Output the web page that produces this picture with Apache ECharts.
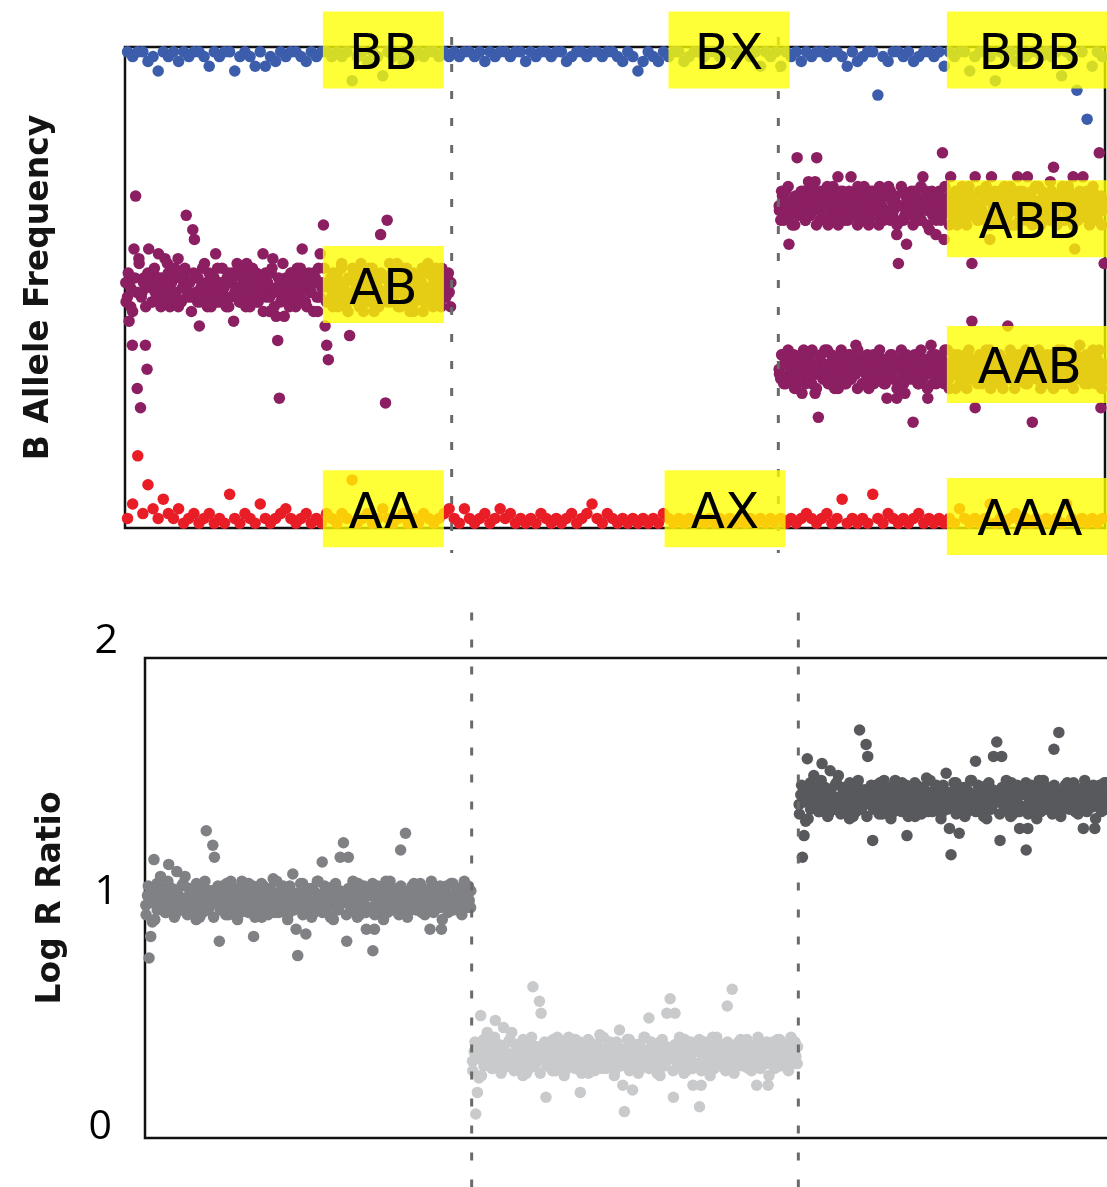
<!DOCTYPE html>
<html>
<head>
<meta charset="utf-8">
<title>B Allele Frequency / Log R Ratio</title>
<script src="https://cdn.jsdelivr.net/npm/echarts@6/dist/echarts.min.js"></script>
<style>
  html, body { margin: 0; padding: 0; background: #ffffff; }
  #chart { width: 1107px; height: 1187px; }
</style>
</head>
<body>
<div id="chart"></div>
<script>
// ---------------------------------------------------------------------------
// Data: three copy-number segments along one chromosome region.
// Each array lists marker values in genomic order within its segment.
// Dense clusters come from two interleaved marker sets (suffix "b" = set 2).
// ---------------------------------------------------------------------------

const segmentCount = 3;
const markersPerSegment = 1000;          // position units per segment
const segmentBreaks = [1000, 2000];      // breakpoints between segments
const lrrTicks = [0, 1, 2];

// B allele frequency, homozygous B calls (top strip)
const bafBB1 = [
  0.99,0.98,0.99,0.99,0.97,0.98,0.95,0.99,0.98,0.99,0.97,0.99,0.98,0.99,0.99,0.98,0.96,0.99,0.98,0.99,
  0.99,0.95,0.98,0.99,0.98,0.96,0.99,0.96,0.98,0.97,0.99,0.98,0.99,0.99,0.98,0.97,0.99,0.98,0.99,0.99,
  0.98,0.99,0.98,0.99,0.93,0.98,0.99,0.97,0.99,0.98,0.94,0.99,0.98,0.99,0.97,0.99,0.98,0.99,0.98,0.99,
  0.99,0.98,0.99,0.98
];
const bafBB2 = [
  0.99,0.98,0.99,0.99,0.98,0.99,0.97,0.99,0.98,0.99,0.99,0.98,0.99,0.99,0.97,0.99,0.98,0.99,0.99,0.98,
  0.99,0.99,0.97,0.98,0.99,0.99,0.98,0.99,0.99,0.98,0.99,0.99,0.98,0.97,0.99,0.98,0.95,0.97,0.99,0.98,
  0.97,0.99,0.98,0.99,0.99,0.97,0.98,0.99,0.99,0.98,0.99,0.99,0.98,0.99,0.99,0.98,0.99,0.99,0.98,0.99,
  0.96,0.99,0.98,0.99
];
const bafBB3 = [
  0.96,0.99,0.98,0.99,0.97,0.99,0.98,0.99,0.99,0.98,0.99,0.99,0.98,0.96,0.99,0.97,0.98,0.99,0.99,0.90,
  0.98,0.97,0.99,0.99,0.98,0.99,0.97,0.98,0.99,0.99,0.98,0.99,0.96,0.99,0.98,0.99,0.99,0.95,0.98,0.99,
  0.99,0.98,0.93,0.99,0.98,0.99,0.97,0.99,0.98,0.99,0.99,0.98,0.99,0.98,0.99,0.94,0.99,0.98,0.91,0.99,
  0.85,0.96,0.99,0.98
];

// B allele frequency, heterozygous calls
const bafAB1 = [
  0.51,0.48,0.43,0.46,0.38,0.58,0.69,0.29,0.56,0.25,0.49,0.52,0.38,0.33,0.58,0.50,0.47,0.53,0.49,0.51,
  0.57,0.48,0.52,0.47,0.56,0.50,0.53,0.46,0.51,0.49,0.54,0.48,0.56,0.52,0.47,0.50,0.53,0.65,0.49,0.51,
  0.48,0.62,0.60,0.52,0.47,0.42,0.50,0.54,0.49,0.51,0.46,0.53,0.48,0.50,0.52,0.57,0.47,0.51,0.49,0.54,
  0.50,0.48,0.52,0.46,0.51,0.53,0.43,0.49,0.50,0.54,0.47,0.52,0.48,0.51,0.55,0.49,0.46,0.52,0.50,0.48,
  0.53,0.47,0.51,0.49,0.57,0.52,0.48,0.50,0.45,0.53,0.56,0.49,0.44,0.39,0.27,0.51,0.48,0.44,0.52,0.50,
  0.47,0.53,0.49,0.51,0.46,0.54,0.50,0.48,0.58,0.52,0.47,0.50,0.53,0.49,0.51,0.45,0.52,0.48,0.54,0.57,
  0.50,0.63,0.42,0.38,0.35,0.51,0.48,0.53,0.49,0.52,0.46,0.50,0.54,0.48,0.51,0.47,0.45,0.40,0.52,0.49,
  0.53,0.48,0.51,0.46,0.55,0.50,0.47,0.52,0.49,0.54,0.48,0.51,0.45,0.53,0.50,0.47,0.61,0.52,0.49,0.26,
  0.64,0.50,0.47,0.53,0.48,0.51,0.55,0.49,0.46,0.52,0.50,0.48,0.54,0.51,0.45,0.49,0.53,0.47,0.50,0.52,
  0.48,0.51,0.45,0.53,0.49,0.55,0.47,0.50,0.52,0.48,0.54,0.49,0.51,0.46,0.53,0.50,0.48,0.52,0.49,0.51
];
const bafAB1b = [
  0.47,0.53,0.50,0.45,0.52,0.49,0.55,0.48,0.51,0.46,0.53,0.51,0.47,0.54,0.49,0.52,0.46,0.50,0.48,0.55,
  0.51,0.47,0.53,0.49,0.46,0.52,0.50,0.54,0.48,0.51,0.45,0.53,0.49,0.52,0.47,0.50,0.55,0.48,0.51,0.46,
  0.52,0.49,0.54,0.47,0.51,0.50,0.46,0.53,0.48,0.52,0.49,0.55,0.47,0.50,0.53,0.46,0.51,0.48,0.54,0.50,
  0.47,0.52,0.49,0.45,0.53,0.51,0.48,0.54,0.46,0.50,0.52,0.47,0.55,0.49,0.51,0.46,0.53,0.50,0.48,0.52,
  0.54,0.47,0.50,0.46,0.52,0.49,0.53,0.51,0.45,0.48,0.51,0.54,0.47,0.50,0.52,0.46,0.49,0.53,0.48,0.55,
  0.50,0.46,0.52,0.48,0.54,0.51,0.47,0.49,0.53,0.45,0.52,0.50,0.47,0.54,0.48,0.51,0.46,0.53,0.49,0.52,
  0.47,0.55,0.50,0.48,0.52,0.46,0.51,0.54,0.49,0.47,0.53,0.50,0.45,0.52,0.48,0.51,0.54,0.47,0.50,0.53,
  0.49,0.46,0.52,0.51,0.47,0.54,0.48,0.50,0.53,0.46
];
const bafABB3 = [
  0.67,0.64,0.69,0.66,0.70,0.65,0.59,0.68,0.63,0.67,0.69,0.77,0.65,0.68,0.66,0.70,0.64,0.67,0.72,0.65,
  0.69,0.66,0.72,0.77,0.68,0.64,0.67,0.70,0.65,0.68,0.63,0.69,0.66,0.71,0.67,0.64,0.73,0.68,0.65,0.70,
  0.66,0.69,0.64,0.67,0.73,0.65,0.68,0.70,0.63,0.67,0.69,0.65,0.71,0.66,0.68,0.64,0.70,0.67,0.65,0.69,
  0.68,0.63,0.67,0.70,0.65,0.69,0.66,0.71,0.64,0.68,0.66,0.69,0.61,0.55,0.67,0.64,0.70,0.65,0.59,0.68,
  0.66,0.70,0.63,0.67,0.69,0.65,0.68,0.64,0.73,0.67,0.70,0.66,0.62,0.69,0.65,0.68,0.61,0.67,0.70,0.64,
  0.78,0.60,0.68,0.66,0.69,0.73,0.65,0.67,0.70,0.63,0.68,0.66,0.71,0.64,0.67,0.69,0.65,0.68,0.55,0.66,
  0.73,0.67,0.64,0.70,0.66,0.68,0.65,0.69,0.63,0.60,0.73,0.67,0.70,0.65,0.68,0.64,0.69,0.66,0.71,0.67,
  0.65,0.68,0.63,0.70,0.66,0.69,0.73,0.64,0.67,0.70,0.65,0.68,0.73,0.66,0.69,0.63,0.67,0.71,0.65,0.68,
  0.66,0.70,0.64,0.67,0.69,0.65,0.72,0.68,0.75,0.66,0.63,0.69,0.67,0.70,0.64,0.68,0.66,0.71,0.65,0.69,
  0.73,0.58,0.67,0.64,0.70,0.66,0.73,0.68,0.65,0.69,0.63,0.67,0.70,0.66,0.68,0.64,0.78,0.69,0.66,0.55
];
const bafABB3b = [
  0.66,0.70,0.64,0.68,0.71,0.65,0.67,0.63,0.69,0.66,0.70,0.67,0.64,0.69,0.65,0.71,0.68,0.63,0.66,0.70,
  0.65,0.68,0.71,0.64,0.67,0.69,0.66,0.63,0.70,0.68,0.64,0.67,0.70,0.65,0.69,0.66,0.71,0.68,0.64,0.67,
  0.69,0.63,0.66,0.70,0.68,0.65,0.71,0.67,0.64,0.69,0.66,0.70,0.65,0.68,0.63,0.67,0.71,0.64,0.69,0.66,
  0.68,0.65,0.70,0.67,0.64,0.71,0.66,0.69,0.63,0.68,0.70,0.66,0.64,0.69,0.67,0.65,0.71,0.68,0.63,0.66,
  0.69,0.67,0.70,0.64,0.68,0.66,0.63,0.71,0.65,0.69,0.67,0.64,0.70,0.66,0.68,0.71,0.65,0.63,0.69,0.67,
  0.66,0.70,0.64,0.68,0.65,0.69,0.71,0.66,0.63,0.68,0.70,0.65,0.67,0.64,0.69,0.66,0.70,0.68,0.65,0.71,
  0.63,0.67,0.69,0.66,0.64,0.70,0.68,0.65,0.67,0.69,0.71,0.64,0.66,0.70,0.67,0.63,0.68,0.69,0.65,0.66,
  0.68,0.70,0.64,0.67,0.71,0.65,0.69,0.66,0.63,0.68
];
const bafAAB3 = [
  0.33,0.31,0.36,0.34,0.30,0.35,0.32,0.34,0.31,0.36,0.33,0.30,0.35,0.32,0.28,0.37,0.34,0.31,0.33,0.36,
  0.30,0.34,0.28,0.32,0.23,0.35,0.33,0.31,0.37,0.34,0.30,0.32,0.36,0.33,0.29,0.35,0.31,0.34,0.37,0.32,
  0.35,0.30,0.33,0.36,0.31,0.34,0.32,0.38,0.29,0.33,0.35,0.30,0.34,0.32,0.36,0.31,0.33,0.35,0.30,0.34,
  0.32,0.36,0.31,0.33,0.35,0.30,0.27,0.34,0.32,0.36,0.31,0.33,0.27,0.35,0.30,0.34,0.32,0.28,0.36,0.33,
  0.31,0.35,0.22,0.32,0.34,0.30,0.36,0.33,0.31,0.35,0.32,0.27,0.34,0.38,0.30,0.33,0.36,0.31,0.34,0.32,
  0.35,0.30,0.33,0.37,0.31,0.34,0.32,0.36,0.29,0.33,0.35,0.31,0.34,0.30,0.36,0.32,0.33,0.35,0.43,0.31,
  0.25,0.34,0.32,0.36,0.30,0.33,0.35,0.31,0.34,0.37,0.32,0.30,0.35,0.33,0.31,0.36,0.34,0.29,0.33,0.35,
  0.42,0.31,0.34,0.32,0.36,0.30,0.33,0.35,0.31,0.34,0.32,0.37,0.30,0.33,0.35,0.22,0.32,0.36,0.31,0.34,
  0.33,0.30,0.35,0.32,0.36,0.31,0.34,0.33,0.29,0.35,0.32,0.37,0.30,0.34,0.31,0.36,0.33,0.32,0.35,0.30,
  0.34,0.31,0.36,0.33,0.38,0.32,0.35,0.30,0.34,0.31,0.36,0.33,0.32,0.35,0.30,0.34,0.37,0.25,0.33,0.31
];
const bafAAB3b = [
  0.32,0.36,0.30,0.34,0.37,0.31,0.33,0.29,0.35,0.32,0.36,0.33,0.30,0.35,0.31,0.37,0.34,0.29,0.32,0.36,
  0.31,0.34,0.37,0.30,0.33,0.35,0.32,0.29,0.36,0.34,0.30,0.33,0.36,0.31,0.35,0.32,0.37,0.34,0.30,0.33,
  0.35,0.29,0.32,0.36,0.34,0.31,0.37,0.33,0.30,0.35,0.32,0.36,0.31,0.34,0.29,0.33,0.37,0.30,0.35,0.32,
  0.34,0.31,0.36,0.33,0.30,0.37,0.32,0.35,0.29,0.34,0.36,0.32,0.30,0.35,0.33,0.31,0.37,0.34,0.29,0.32,
  0.35,0.33,0.36,0.30,0.34,0.32,0.29,0.37,0.31,0.35,0.33,0.30,0.36,0.32,0.34,0.37,0.31,0.29,0.35,0.33,
  0.32,0.36,0.30,0.34,0.31,0.35,0.37,0.32,0.29,0.34,0.36,0.31,0.33,0.30,0.35,0.32,0.36,0.34,0.31,0.37,
  0.29,0.33,0.35,0.32,0.30,0.36,0.34,0.31,0.33,0.35,0.37,0.30,0.32,0.36,0.33,0.29,0.34,0.35,0.31,0.32,
  0.34,0.36,0.30,0.33,0.37,0.31,0.35,0.32,0.29,0.34
];

// B allele frequency, homozygous A calls (bottom strip)
const bafAA1 = [
  0.02,0.05,0.15,0.03,0.09,0.04,0.02,0.06,0.03,0.02,0.04,0.01,0.02,0.03,0.01,0.02,0.03,0.01,0.02,0.01,
  0.07,0.02,0.01,0.03,0.02,0.01,0.05,0.02,0.01,0.02,0.03,0.04,0.02,0.01,0.02,0.03,0.01,0.02,0.01,0.03,
  0.02,0.01,0.03,0.02,0.10,0.01,0.02,0.03,0.01,0.02,0.04,0.02,0.01,0.02,0.03,0.01,0.02,0.01,0.03,0.02,
  0.01,0.02,0.03,0.04
];
const bafAA2 = [
  0.02,0.01,0.04,0.02,0.01,0.02,0.03,0.01,0.02,0.04,0.02,0.03,0.01,0.02,0.01,0.02,0.01,0.03,0.02,0.01,
  0.02,0.01,0.02,0.03,0.01,0.02,0.03,0.05,0.02,0.01,0.03,0.02,0.01,0.02,0.01,0.02,0.01,0.02,0.01,0.02,
  0.01,0.03,0.02,0.01,0.02,0.01,0.02,0.01,0.02,0.01,0.02,0.01,0.02,0.01,0.02,0.01,0.02,0.01,0.02,0.01,
  0.02,0.01,0.02,0.01
];
const bafAA3 = [
  0.02,0.01,0.02,0.01,0.02,0.03,0.02,0.01,0.02,0.03,0.01,0.02,0.06,0.01,0.02,0.01,0.02,0.01,0.07,0.02,
  0.01,0.03,0.02,0.01,0.02,0.01,0.02,0.03,0.01,0.02,0.01,0.02,0.01,0.02,0.01,0.04,0.02,0.01,0.02,0.01,
  0.02,0.05,0.01,0.02,0.01,0.02,0.03,0.01,0.02,0.01,0.02,0.01,0.02,0.01,0.02,0.01,0.05,0.02,0.01,0.02,
  0.01,0.02,0.01,0.02
];

// Log R ratio per segment
const lrr1 = [
  0.97,1.01,0.75,0.84,0.90,1.16,0.99,0.95,1.03,1.09,0.98,1.00,0.94,1.02,1.14,0.96,1.04,0.99,0.93,1.11,
  1.01,0.97,1.05,0.95,1.09,1.00,0.98,1.03,0.94,1.01,0.96,1.06,0.99,0.92,1.02,0.97,1.04,1.28,0.95,1.00,
  1.03,1.22,1.17,0.98,1.01,0.82,0.96,1.05,0.99,0.93,1.02,0.97,1.07,1.00,0.95,1.03,0.98,1.01,0.94,1.04,
  0.99,0.96,1.02,1.06,0.97,1.00,0.84,0.95,1.03,0.98,1.01,0.92,1.05,0.97,1.00,0.96,1.04,0.99,1.08,0.94,
  1.02,0.98,0.95,1.01,1.05,0.97,1.00,0.93,1.03,0.99,1.10,0.96,0.87,0.76,1.02,0.98,1.06,0.95,0.85,1.01,
  0.97,1.04,0.99,0.94,1.02,1.07,0.96,1.00,1.15,0.98,1.03,0.95,1.01,0.92,0.99,1.05,0.97,1.02,0.96,1.17,
  1.00,1.23,0.98,0.82,1.17,1.01,0.95,1.04,0.99,0.97,1.06,0.93,1.02,0.98,1.00,0.87,1.03,0.96,1.01,0.78,
  0.87,0.99,1.05,0.95,1.02,0.97,1.00,1.07,0.94,1.01,0.98,1.03,0.96,1.00,1.04,0.93,1.20,0.99,1.02,1.27,
  0.97,1.01,0.95,1.05,0.99,1.02,0.96,1.00,1.06,0.94,1.03,0.98,1.01,0.97,0.87,1.04,0.99,0.95,1.02,1.00,
  0.96,0.87,1.03,0.98,1.05,0.94,1.01,0.99,1.06,0.97,1.02,0.95,1.00,1.04,0.98,1.07,0.96,1.01,0.99,1.03
];
const lrr1b = [
  0.93,1.05,0.98,1.02,0.91,1.06,0.96,1.00,1.04,0.94,1.07,0.97,1.01,0.92,1.03,0.99,0.95,1.06,1.00,0.93,
  1.04,0.97,1.02,0.91,1.05,0.98,0.94,1.07,1.00,0.96,1.03,0.92,0.99,1.05,0.95,1.01,0.97,1.06,0.93,1.02,
  0.98,1.04,0.91,1.00,1.07,0.96,1.03,0.94,0.99,1.05,0.92,1.01,0.97,1.06,0.95,1.02,0.93,1.04,0.98,1.00,
  1.07,0.94,1.03,0.96,1.01,0.91,1.05,0.99,0.95,1.02,0.97,1.06,0.93,1.00,1.04,0.98,0.92,1.03,0.96,1.07,
  1.01,0.94,1.05,0.97,0.99,1.02,0.91,1.06,0.95,1.03,0.98,1.00,0.93,1.04,0.96,1.07,0.99,0.92,1.02,0.97,
  1.05,0.94,1.01,0.96,1.06,0.93,1.03,0.98,1.00,0.91,1.04,0.97,1.07,0.95,1.02,0.99,0.94,1.05,0.96,1.01,
  0.92,1.03,0.98,1.06,0.95,1.00,0.97,1.04,0.93,1.02,0.99,1.07,0.94,1.01,0.96,1.05,0.91,1.03,0.98,1.00,
  1.06,0.95,1.02,0.97,1.04,0.93,1.00,0.99,1.05,0.96
];
const lrr2 = [
  0.32,0.36,0.10,0.19,0.25,0.51,0.34,0.30,0.38,0.44,0.33,0.35,0.29,0.37,0.49,0.31,0.39,0.34,0.28,0.46,
  0.36,0.32,0.40,0.30,0.44,0.35,0.33,0.38,0.29,0.36,0.31,0.41,0.34,0.27,0.37,0.32,0.39,0.63,0.30,0.35,
  0.38,0.57,0.52,0.33,0.36,0.17,0.31,0.40,0.34,0.28,0.37,0.32,0.42,0.35,0.30,0.38,0.33,0.36,0.29,0.39,
  0.34,0.31,0.37,0.41,0.32,0.35,0.19,0.30,0.38,0.33,0.36,0.27,0.40,0.32,0.35,0.31,0.39,0.34,0.43,0.29,
  0.37,0.33,0.30,0.36,0.40,0.32,0.35,0.28,0.38,0.34,0.45,0.31,0.22,0.11,0.37,0.33,0.41,0.30,0.20,0.36,
  0.32,0.39,0.34,0.29,0.37,0.42,0.31,0.35,0.50,0.33,0.38,0.30,0.36,0.27,0.34,0.40,0.32,0.37,0.31,0.52,
  0.35,0.58,0.33,0.17,0.52,0.36,0.30,0.39,0.34,0.32,0.41,0.28,0.37,0.33,0.35,0.22,0.38,0.31,0.36,0.13,
  0.22,0.34,0.40,0.30,0.37,0.32,0.35,0.42,0.29,0.36,0.33,0.38,0.31,0.35,0.39,0.28,0.55,0.34,0.37,0.62,
  0.32,0.36,0.30,0.40,0.34,0.37,0.31,0.35,0.41,0.29,0.38,0.33,0.36,0.32,0.22,0.39,0.34,0.30,0.37,0.35,
  0.31,0.22,0.38,0.33,0.40,0.29,0.36,0.34,0.41,0.32,0.37,0.30,0.35,0.39,0.33,0.42,0.31,0.36,0.34,0.38
];
const lrr2b = [
  0.28,0.40,0.33,0.37,0.26,0.41,0.31,0.35,0.39,0.29,0.42,0.32,0.36,0.27,0.38,0.34,0.30,0.41,0.35,0.28,
  0.39,0.32,0.37,0.26,0.40,0.33,0.29,0.42,0.35,0.31,0.38,0.27,0.34,0.40,0.30,0.36,0.32,0.41,0.28,0.37,
  0.33,0.39,0.26,0.35,0.42,0.31,0.38,0.29,0.34,0.40,0.27,0.36,0.32,0.41,0.30,0.37,0.28,0.39,0.33,0.35,
  0.42,0.29,0.38,0.31,0.36,0.26,0.40,0.34,0.30,0.37,0.32,0.41,0.28,0.35,0.39,0.33,0.27,0.38,0.31,0.42,
  0.36,0.29,0.40,0.32,0.34,0.37,0.26,0.41,0.30,0.38,0.33,0.35,0.28,0.39,0.31,0.42,0.34,0.27,0.37,0.32,
  0.40,0.29,0.36,0.31,0.41,0.28,0.38,0.33,0.35,0.26,0.39,0.32,0.42,0.30,0.37,0.34,0.29,0.40,0.31,0.36,
  0.27,0.38,0.33,0.41,0.30,0.35,0.32,0.39,0.28,0.37,0.34,0.42,0.29,0.36,0.31,0.40,0.26,0.38,0.33,0.35,
  0.41,0.30,0.37,0.32,0.39,0.28,0.35,0.34,0.40,0.31
];
const lrr3 = [
  1.39,1.43,1.17,1.26,1.32,1.58,1.41,1.37,1.45,1.51,1.40,1.42,1.36,1.44,1.56,1.38,1.46,1.41,1.35,1.53,
  1.43,1.39,1.47,1.37,1.51,1.42,1.40,1.45,1.36,1.43,1.38,1.48,1.41,1.34,1.44,1.39,1.46,1.70,1.37,1.42,
  1.45,1.64,1.59,1.40,1.43,1.24,1.38,1.47,1.41,1.35,1.44,1.39,1.49,1.42,1.37,1.45,1.40,1.43,1.36,1.46,
  1.41,1.38,1.44,1.48,1.39,1.42,1.26,1.37,1.45,1.40,1.43,1.34,1.47,1.39,1.42,1.38,1.46,1.41,1.50,1.36,
  1.44,1.40,1.37,1.43,1.47,1.39,1.42,1.35,1.45,1.41,1.52,1.38,1.29,1.18,1.44,1.40,1.48,1.37,1.27,1.43,
  1.39,1.46,1.41,1.36,1.44,1.49,1.38,1.42,1.57,1.40,1.45,1.37,1.43,1.34,1.41,1.47,1.39,1.44,1.38,1.59,
  1.42,1.65,1.40,1.24,1.59,1.43,1.37,1.46,1.41,1.39,1.48,1.35,1.44,1.40,1.42,1.29,1.45,1.38,1.43,1.20,
  1.29,1.41,1.47,1.37,1.44,1.39,1.42,1.49,1.36,1.43,1.40,1.45,1.38,1.42,1.46,1.35,1.62,1.41,1.44,1.69,
  1.39,1.43,1.37,1.47,1.41,1.44,1.38,1.42,1.48,1.36,1.45,1.40,1.43,1.39,1.29,1.46,1.41,1.37,1.44,1.42,
  1.38,1.29,1.45,1.40,1.47,1.36,1.43,1.41,1.48,1.39,1.44,1.37,1.42,1.46,1.40,1.49,1.38,1.43,1.41,1.45
];
const lrr3b = [
  1.35,1.47,1.40,1.44,1.33,1.48,1.38,1.42,1.46,1.36,1.49,1.39,1.43,1.34,1.45,1.41,1.37,1.48,1.42,1.35,
  1.46,1.39,1.44,1.33,1.47,1.40,1.36,1.49,1.42,1.38,1.45,1.34,1.41,1.47,1.37,1.43,1.39,1.48,1.35,1.44,
  1.40,1.46,1.33,1.42,1.49,1.38,1.45,1.36,1.41,1.47,1.34,1.43,1.39,1.48,1.37,1.44,1.35,1.46,1.40,1.42,
  1.49,1.36,1.45,1.38,1.43,1.33,1.47,1.41,1.37,1.44,1.39,1.48,1.35,1.42,1.46,1.40,1.34,1.45,1.38,1.49,
  1.43,1.36,1.47,1.39,1.41,1.44,1.33,1.48,1.37,1.45,1.40,1.42,1.35,1.46,1.38,1.49,1.41,1.34,1.44,1.39,
  1.47,1.36,1.43,1.38,1.48,1.35,1.45,1.40,1.42,1.33,1.46,1.39,1.49,1.37,1.44,1.41,1.36,1.47,1.38,1.43,
  1.34,1.45,1.40,1.48,1.37,1.42,1.39,1.46,1.35,1.44,1.41,1.49,1.36,1.43,1.38,1.47,1.33,1.45,1.40,1.42,
  1.48,1.37,1.44,1.39,1.46,1.35,1.42,1.41,1.47,1.38
];

// Genotype call labels and where they sit (position, BAF)
const callLabels  = ['BB', 'AB', 'AA', 'BX', 'AX', 'BBB', 'ABB', 'AAB', 'AAA'];
const callAnchors = [
  [791, 0.994], [791, 0.506], [791, 0.040],
  [1849, 0.994], [1837, 0.040],
  [2770, 0.994], [2770, 0.643], [2770, 0.340], [2770, 0.024]
];

// ---------------------------------------------------------------------------
// Helpers
// ---------------------------------------------------------------------------

// Spread a segment's markers evenly along its stretch of the position axis.
function place(values, segIndex) {
  const step = markersPerSegment / values.length;
  return values.map((v, i) => [segIndex * markersPerSegment + (i + 0.5) * step, v]);
}

// ---------------------------------------------------------------------------
// Styling
// ---------------------------------------------------------------------------

const colors = {
  bb: '#3b5dab',
  het: '#8b1f62',
  aa: '#e81d26',
  lrr: ['#808185', '#c9cacc', '#58595c'],
  divider: '#6a6a6a',
  callBox: 'rgba(255, 255, 0, 0.78)'
};
const dotSize = 11.5;
const bafReach = [1.021, -0.052];   // divider extent in BAF units
const lrrReach = [2.19, -0.21];     // divider extent in LRR units
const callBoxWidths = [121, 121, 121, 121, 121, 166, 166, 166, 166];
const callBoxHeight = 77;

function scatter(name, data, color, gridIdx) {
  return {
    name, type: 'scatter', data,
    xAxisIndex: gridIdx, yAxisIndex: gridIdx,
    symbol: 'circle', symbolSize: dotSize,
    itemStyle: { color, opacity: 1 },
    z: 2, silent: true
  };
}

function divider(xVal, reach, gridIdx) {
  return {
    type: 'line',
    data: [[xVal, reach[0]], [xVal, reach[1]]],
    xAxisIndex: gridIdx, yAxisIndex: gridIdx,
    symbol: 'none', clip: false, silent: true,
    lineStyle: { color: colors.divider, width: 3, type: [8, 19] },
    z: 5
  };
}

const series = [
  scatter('BB', [].concat(place(bafBB1, 0), place(bafBB2, 1), place(bafBB3, 2)), colors.bb, 0),
  scatter('Het', [].concat(
    place(bafAB1, 0), place(bafAB1b, 0),
    place(bafABB3, 2), place(bafABB3b, 2),
    place(bafAAB3, 2), place(bafAAB3b, 2)), colors.het, 0),
  scatter('AA', [].concat(place(bafAA1, 0), place(bafAA2, 1), place(bafAA3, 2)), colors.aa, 0),
  scatter('LRR 1', [].concat(place(lrr1, 0), place(lrr1b, 0)), colors.lrr[0], 1),
  scatter('LRR 2', [].concat(place(lrr2, 1), place(lrr2b, 1)), colors.lrr[1], 1),
  scatter('LRR 3', [].concat(place(lrr3, 2), place(lrr3b, 2)), colors.lrr[2], 1)
];
segmentBreaks.forEach(b => {
  series.push(divider(b, bafReach, 0));
  series.push(divider(b, lrrReach, 1));
});

const xMax = segmentCount * markersPerSegment;
const hiddenX = { type: 'value', min: 0, max: xMax, show: false };

const option = {
  backgroundColor: '#ffffff',
  animation: false,
  grid: [
    { left: 125, top: 47, width: 980, height: 481, outerBoundsMode: 'none',
      show: true, borderColor: '#111', borderWidth: 2.5, backgroundColor: 'transparent' },
    { left: 145, top: 658, width: 980, height: 480, outerBoundsMode: 'none',
      show: true, borderColor: '#111', borderWidth: 2.5, backgroundColor: 'transparent' }
  ],
  xAxis: [
    Object.assign({ gridIndex: 0 }, hiddenX),
    Object.assign({ gridIndex: 1 }, hiddenX)
  ],
  yAxis: [
    {
      gridIndex: 0, type: 'value', min: 0, max: 1,
      name: 'B Allele Frequency', nameLocation: 'middle', nameRotate: 90, nameGap: 69,
      nameTextStyle: { fontFamily: 'DejaVu Sans', fontWeight: 'bold', fontSize: 33, color: '#141414' },
      axisLine: { show: false }, axisTick: { show: false },
      axisLabel: { show: false }, splitLine: { show: false }
    },
    {
      gridIndex: 1, type: 'value', min: lrrTicks[0], max: lrrTicks[lrrTicks.length - 1], interval: 1,
      name: 'Log R Ratio', nameLocation: 'middle', nameRotate: 90, nameGap: 77,
      nameTextStyle: { fontFamily: 'DejaVu Sans', fontWeight: 'bold', fontSize: 33, color: '#141414' },
      axisLine: { show: false }, axisTick: { show: false }, splitLine: { show: false },
      axisLabel: {
        show: true, margin: 27,
        formatter: v => '{t' + v + '|' + v + '}',
        rich: {
          t0: { fontFamily: 'Open Sans', fontSize: 41, color: '#000', padding: [0, 6, 22, 0] },
          t1: { fontFamily: 'Open Sans', fontSize: 41, color: '#000', padding: [0, 0, 12, 0] },
          t2: { fontFamily: 'Open Sans', fontSize: 41, color: '#000', padding: [0, 0, 34, 0] }
        }
      }
    }
  ],
  series
};

const chart = echarts.init(document.getElementById('chart'), null, { renderer: 'canvas' });
chart.setOption(option);

// Genotype call boxes, positioned through the BAF grid's coordinate system.
const callGraphics = [];
callLabels.forEach((text, k) => {
  const p = chart.convertToPixel({ gridIndex: 0 }, callAnchors[k]);
  const w = callBoxWidths[k];
  callGraphics.push({
    type: 'rect', z: 100, silent: true,
    shape: { x: p[0] - w / 2, y: p[1] - callBoxHeight / 2, width: w, height: callBoxHeight },
    style: { fill: colors.callBox }
  });
  callGraphics.push({
    type: 'text', z: 101, silent: true,
    x: p[0], y: p[1] + 6,
    style: {
      text, fill: '#000', fontFamily: 'DejaVu Sans', fontSize: 50,
      align: 'center', verticalAlign: 'middle'
    }
  });
});
chart.setOption({ graphic: callGraphics });
</script>
</body>
</html>
